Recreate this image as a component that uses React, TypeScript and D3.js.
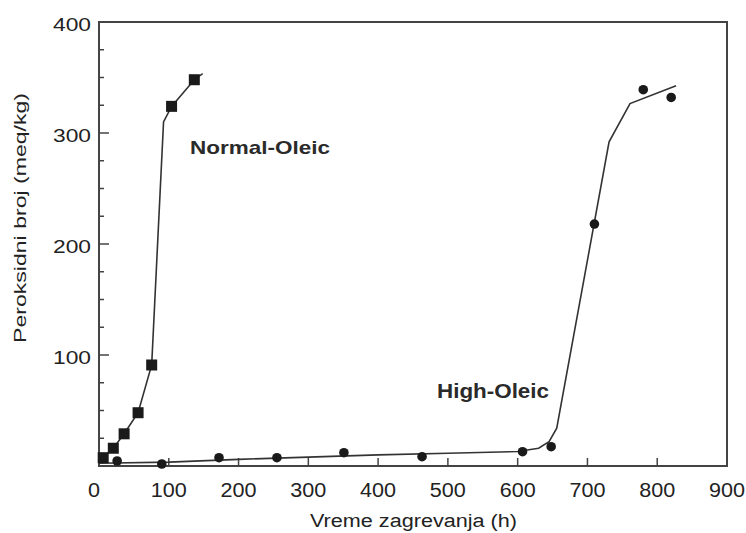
import * as d3 from "d3";

// Normal-Oleic (squares)
const normalPts: [number, number][] = [
  [6, 7.5], [20.5, 16], [36, 29], [56, 48], [75.5, 91], [104, 324], [136.6, 348],
];
const normalLine: [number, number][] = [
  [0, 3], [6, 7.5], [20.5, 16], [36, 29], [56, 48], [75.5, 91], [92.5, 310],
  [104, 324], [136.6, 348], [148.6, 353.5],
];

// High-Oleic (circles)
const highPts: [number, number][] = [
  [26, 4.5], [90, 1.8], [172, 7.5], [255, 7.5], [351, 12], [463, 8.4],
  [607, 12.9], [648, 17.4], [710, 218], [780, 339], [820, 332],
];
const highLine: [number, number][] = [
  [0, 2.5], [100, 3.5], [200, 6], [300, 8], [400, 10], [500, 11.5], [600, 13],
  [630, 16], [645, 22], [656, 34], [731, 292], [761, 326.5], [827, 342.5],
];

const xTicks = [0, 100, 200, 300, 400, 500, 600, 700, 800, 900];
const yTicks = [100, 200, 300, 400];
const yMinor = d3.range(25, 400, 25);

const xTitle = "Vreme zagrevanja (h)";
const yTitle = "Peroksidni broj (meq/kg)";

export default function App() {
  const W = 746, H = 533;
  const x = d3.scaleLinear().domain([0, 900]).range([99, 727]);
  const y = d3.scaleLinear().domain([0, 400]).range([466, 22]);
  const line = d3.line<[number, number]>().x(d => x(d[0])).y(d => y(d[1]));
  const ink = "#1a1a1a";
  const axisC = "#444";
  const font = "'Liberation Sans', Arial, sans-serif";

  return (
    <svg width={W} height={H} style={{ position: "absolute", left: 0, top: 0, background: "#fff" }}
      fontFamily={font}>
      {/* frame */}
      <rect x={x(0)} y={y(400)} width={x(900) - x(0)} height={y(0) - y(400)}
        fill="none" stroke={axisC} strokeWidth={2} />

      {/* y ticks */}
      {yMinor.map(v => (
        <line key={"m" + v} x1={x(0)} x2={x(0) + (v % 100 === 0 ? 10 : 5)} y1={y(v)} y2={y(v)}
          stroke={axisC} strokeWidth={1.5} />
      ))}
      {yTicks.map(v => (
        <text key={"yl" + v} x={91} y={y(v) + 9} textAnchor="end" fontSize={18} fill="#222"
          textLength={38} lengthAdjust="spacingAndGlyphs">{v}</text>
      ))}

      {/* x ticks */}
      {xTicks.slice(1, -1).map(v => (
        <line key={"xt" + v} x1={x(v)} x2={x(v)} y1={y(0)} y2={y(0) - 8}
          stroke={axisC} strokeWidth={1.5} />
      ))}
      {xTicks.map(v => (
        <text key={"xl" + v} x={x(v) - (v === 0 ? 5 : 0)} y={497} textAnchor="middle" fontSize={20} fill="#222"
          textLength={v === 0 ? 12 : 36} lengthAdjust="spacingAndGlyphs">{v}</text>
      ))}

      {/* axis titles */}
      <text x={413.5} y={527} textAnchor="middle" fontSize={18} fill="#222"
        textLength={207} lengthAdjust="spacingAndGlyphs">{xTitle}</text>
      <text transform="translate(26,218) rotate(-90)" textAnchor="middle" fontSize={17} fill="#222"
        textLength={250} lengthAdjust="spacingAndGlyphs">{yTitle}</text>

      {/* lines */}
      <path d={line(normalLine) ?? ""} fill="none" stroke="#333" strokeWidth={1.6} />
      <path d={line(highLine) ?? ""} fill="none" stroke="#333" strokeWidth={1.6} />

      {/* markers */}
      {normalPts.map((d, i) => (
        <rect key={"s" + i} x={x(d[0]) - 5.5} y={y(d[1]) - 5.5} width={11} height={11} fill={ink} />
      ))}
      {highPts.map((d, i) => (
        <circle key={"c" + i} cx={x(d[0])} cy={y(d[1])} r={4.8} fill={ink} />
      ))}

      {/* series labels */}
      <text x={190} y={154} fontSize={19} fontWeight="bold" fill="#2a2a2a"
        textLength={140} lengthAdjust="spacingAndGlyphs">Normal-Oleic</text>
      <text x={437} y={398} fontSize={20} fontWeight="bold" fill="#2a2a2a"
        textLength={112} lengthAdjust="spacingAndGlyphs">High-Oleic</text>
    </svg>
  );
}
